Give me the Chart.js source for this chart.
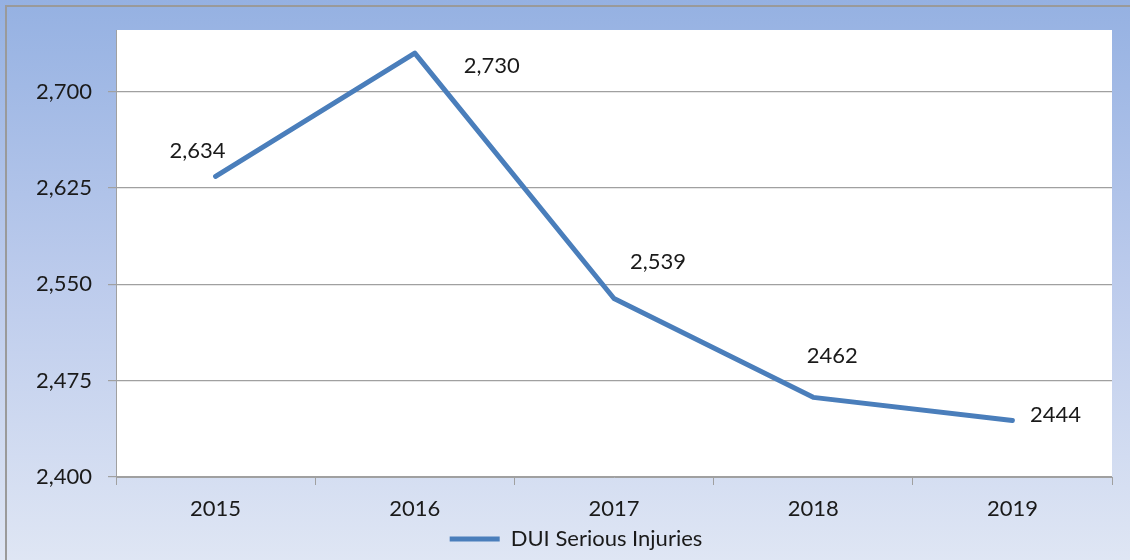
<!DOCTYPE html>
<html><head><meta charset="utf-8">
<script src="https://cdn.jsdelivr.net/npm/chart.js@4/dist/chart.umd.min.js"></script>
<style>html,body{margin:0;padding:0;background:#fff}#wrap{width:1130px;height:560px}</style>
</head><body><div id="wrap"><canvas id="c" width="1130" height="560"></canvas></div>
<script>
const categories = ["2015", "2016", "2017", "2018", "2019"];
const seriesName = "DUI Serious Injuries";
const injuries = [2634, 2730, 2539, 2462, 2444];
const valueLabels = ["2,634", "2,730", "2,539", "2462", "2444"];
const yTicks = [2400, 2475, 2550, 2625, 2700];
// label offsets relative to each point (style)
const labelOffsets = [[-18, -26], [77, 13], [44, -37], [19, -41], [43, -6]];

const FONT = "Lato, 'Noto Sans', sans-serif";

const bgPlugin = {
  id: 'bg',
  afterLayout(chart) {
    if (chart.legend) { chart.legend.left = 40; }
  },
  beforeDraw(chart) {
    const ctx = chart.ctx, W = chart.width, H = chart.height, a = chart.chartArea;
    const g = ctx.createLinearGradient(0, 0, 0, H);
    g.addColorStop(0, '#95b1e2');
    g.addColorStop(0.5, '#bccbec');
    g.addColorStop(1, '#dfe6f4');
    ctx.save();
    ctx.fillStyle = g;
    ctx.fillRect(0, 0, W, H);
    ctx.strokeStyle = '#9a9a9a';
    ctx.lineWidth = 2;
    ctx.strokeRect(6, 6, W + 10, H + 10);
    ctx.fillStyle = '#ffffff';
    ctx.fillRect(a.left, a.top, a.right - a.left, a.bottom - a.top);
    ctx.restore();
  }
};

const labelPlugin = {
  id: 'vlabels',
  afterDatasetsDraw(chart) {
    const ctx = chart.ctx;
    const meta = chart.getDatasetMeta(0);
    ctx.save();
    ctx.font = "22px " + FONT;
    ctx.fillStyle = '#1a1a1a';
    ctx.textAlign = 'center';
    ctx.textBaseline = 'middle';
    meta.data.forEach((pt, i) => {
      const o = labelOffsets[i];
      ctx.fillText(valueLabels[i], pt.x + o[0], pt.y + o[1]);
    });
    ctx.restore();
  }
};

new Chart(document.getElementById('c'), {
  type: 'line',
  data: {
    labels: categories,
    datasets: [{
      label: seriesName,
      data: injuries,
      borderColor: '#4a7ebb',
      backgroundColor: '#4a7ebb',
      borderWidth: 5,
      borderCapStyle: 'round',
      borderJoinStyle: 'round',
      pointRadius: 0,
      pointHoverRadius: 0,
      tension: 0
    }]
  },
  options: {
    responsive: false,
    animation: false,
    events: [],
    layout: { padding: { left: 0, top: 30, right: 18, bottom: 0 } },
    plugins: {
      legend: {
        position: 'bottom',
        labels: {
          usePointStyle: true,
          pointStyle: 'line',
          pointStyleWidth: 50,
          color: '#1a1a1a',
          font: { family: FONT, size: 22 },
          padding: 6
        }
      },
      tooltip: { enabled: false }
    },
    scales: {
      x: {
        offset: true,
        afterFit(s) { s.height = 45; },
        grid: { offset: true, drawOnChartArea: false, drawTicks: true, tickLength: 8, color: '#a0a0a0' },
        border: { color: '#a0a0a0' },
        ticks: { color: '#1a1a1a', font: { family: FONT, size: 22 }, padding: 11, maxRotation: 0 }
      },
      y: {
        min: 2400,
        max: 2748,
        afterFit(s) { s.width = 116; },
        afterBuildTicks(s) { s.ticks = yTicks.map(v => ({ value: v })); },
        grid: { color: '#a0a0a0', tickLength: 8, lineWidth: 1.2 },
        border: { color: '#a0a0a0' },
        ticks: {
          color: '#1a1a1a', font: { family: FONT, size: 22 }, padding: 16,
          callback: v => v.toLocaleString('en-US')
        }
      }
    }
  },
  plugins: [bgPlugin, labelPlugin]
});
</script>
</body></html>
